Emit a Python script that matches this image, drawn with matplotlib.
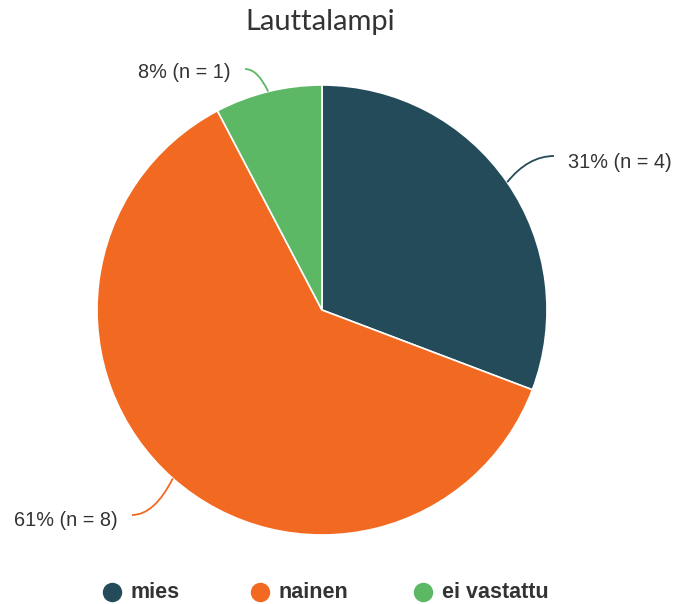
import numpy as np
import matplotlib
matplotlib.use("Agg")
import matplotlib.pyplot as plt
from matplotlib.path import Path
from matplotlib.patches import PathPatch

title = "Lauttalampi"
categories = ["mies", "nainen", "ei vastattu"]
counts = [4, 8, 1]
percents = [31, 61, 8]
colors = ["#234b5a", "#f26a22", "#5cb864"]

W, H = 673, 604
fig = plt.figure(figsize=(W / 100, H / 100), dpi=100)
ax = fig.add_axes([0, 0, 1, 1])

cx, cy, r = 322, H - 310, 225
wedges, _ = ax.pie(counts, colors=colors, startangle=90, counterclock=False,
                   center=(cx, cy), radius=r, frame=True,
                   wedgeprops=dict(edgecolor="white", linewidth=1.2))
ax.set_xlim(0, W)
ax.set_ylim(0, H)
ax.set_aspect("equal")
ax.axis("off")

# connector end points and text centre y (pixel coords from top)
label_ends = [(554, 156), (132, 515), (245, 69)]
text_y = [162, 520, 73]
label_font = dict(fontsize=14.3, color="#333333", family="Liberation Sans")
for w, c, p, col, (lx, lyt), tyt in zip(wedges, counts, percents, colors,
                                        label_ends, text_y):
    mid = np.deg2rad((w.theta1 + w.theta2) / 2)
    sx, sy = cx + r * np.cos(mid), cy + r * np.sin(mid)
    lyy = H - lyt
    right = lx > cx
    ctrlx = sx + (lx - sx) * 0.45
    verts = [(sx, sy), (ctrlx, lyy), (lx, lyy)]
    codes = [Path.MOVETO, Path.CURVE3, Path.CURVE3]
    ax.add_patch(PathPatch(Path(verts, codes), facecolor="none",
                           edgecolor=col, lw=1.3))
    txt = f"{p}% (n = {c})"
    ax.text(lx + (14 if right else -14), H - tyt, txt,
            ha="left" if right else "right", va="center", **label_font)

fig.text(320 / W, 1 - 22 / H, title, ha="center", va="center",
         fontsize=21, color="#333333", family="Lato")

leg_x = [112, 260, 423]
ly = H - 592
for x, cat, col in zip(leg_x, categories, colors):
    ax.plot([x], [ly], marker="o", ms=14, color=col, mec="none")
    ax.text(x + 19, ly, cat, ha="left", va="center", fontsize=15.5,
            fontweight="bold", color="#333333", family="Liberation Sans")

fig.savefig("out.png", dpi=100)
